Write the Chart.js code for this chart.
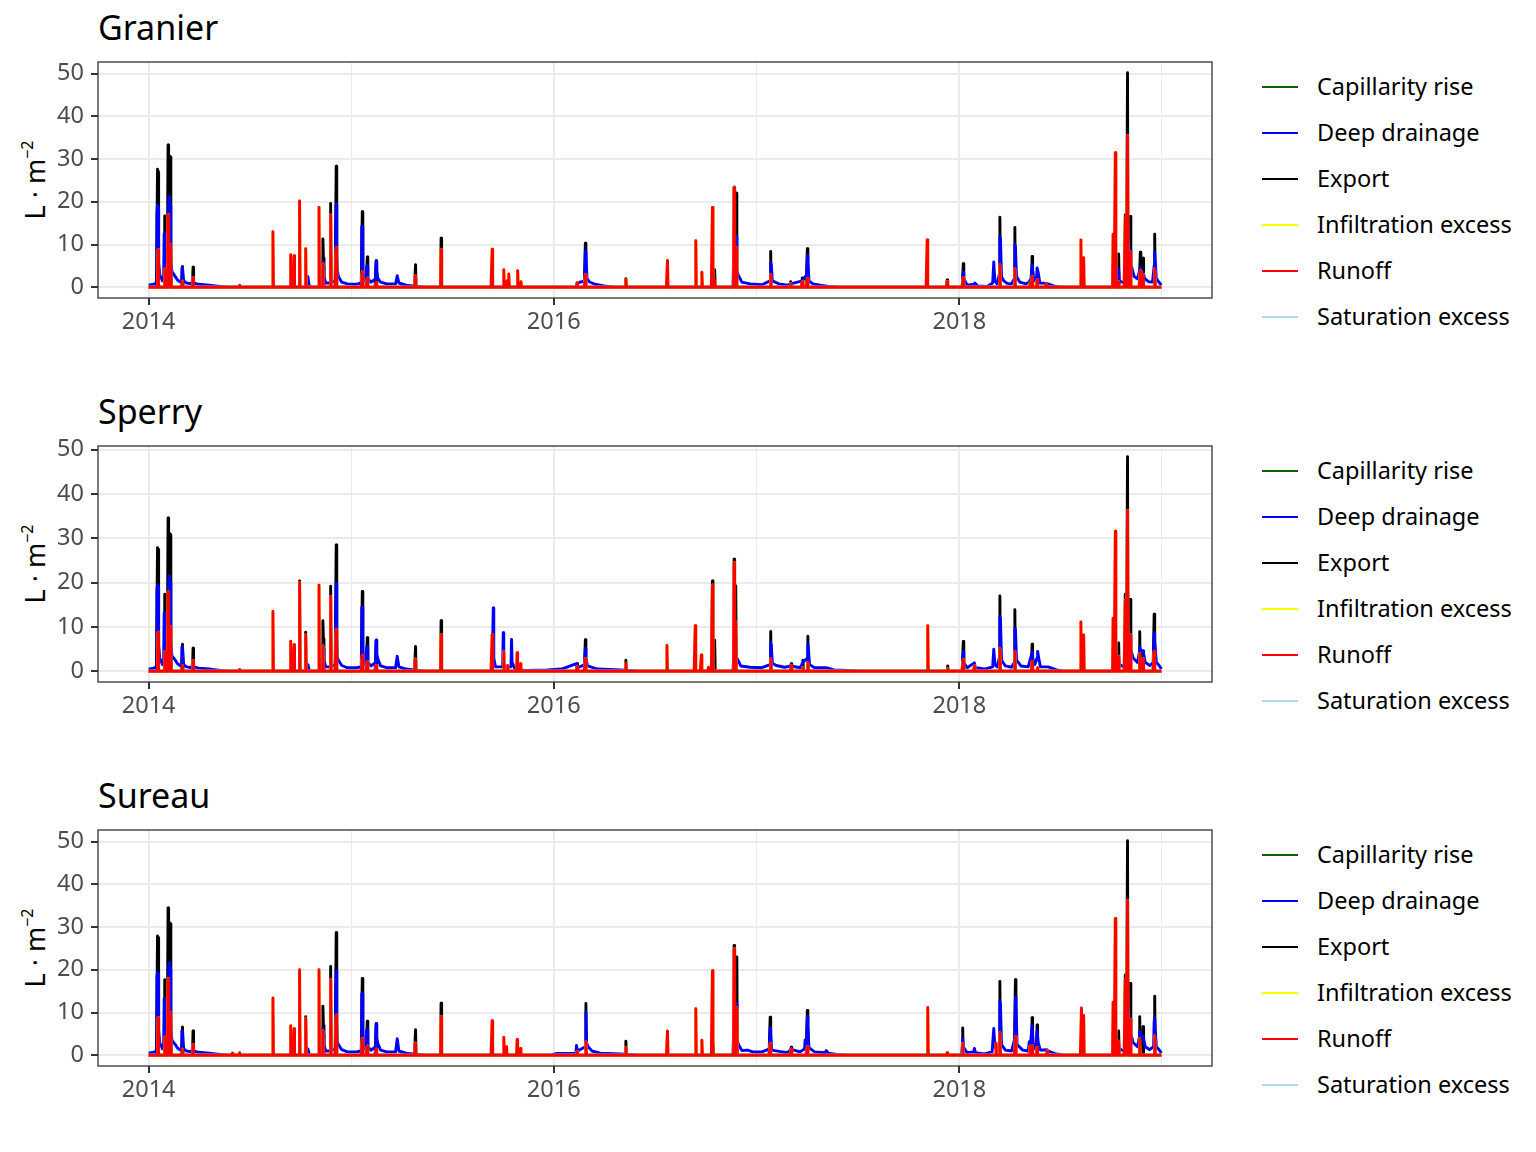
<!DOCTYPE html>
<html>
<head>
<meta charset="utf-8">
<title>Water balance flows</title>
<script src="https://cdn.jsdelivr.net/npm/chart.js@4.4.1/dist/chart.umd.min.js"></script>
<style>
  body { margin: 0; background: #fff; font-family: 'Noto Sans', sans-serif; }
  #page { position: relative; width: 1536px; height: 1152px; overflow: hidden; background: #fff; }
  .title { position: absolute; left: 98px; font-size: 34px; line-height: 34px; color: #000; white-space: nowrap; }
  .ytitle { position: absolute; width: 140px; height: 30px; font-size: 27px; line-height: 30px; text-align: center;
            white-space: nowrap; color: #000; transform: rotate(-90deg); transform-origin: 50% 50%; }
  .ytitle sup { font-size: 16px; vertical-align: 12px; line-height: 0; }
  .key { position: absolute; left: 1262px; width: 36px; height: 2.6px; }
  .label { position: absolute; left: 1317px; font-size: 23.5px; line-height: 30px; color: #000; white-space: nowrap; }
  canvas { position: absolute; left: 0; }
</style>
</head>
<body>
<div id="page"></div>
<script>
// ---- data ----
const panelTitles = ['Granier', 'Sperry', 'Sureau'];
const seriesNames = ['Capillarity rise', 'Deep drainage', 'Export', 'Infiltration excess', 'Runoff', 'Saturation excess'];
const firstDay = '2014-01-01';
const lastDay = '2018-12-31';
const yearStarts = ['2014-01-01', '2015-01-01', '2016-01-01', '2017-01-01', '2018-01-01', '2019-01-01'];
const yearLabels = ['2014', '', '2016', '', '2018', ''];
const yTicks = [0, 5, 10, 15, 20, 25, 30, 35, 40, 45, 50];

// no capillarity rise / saturation excess in these runs
const noFlow = [['2014-01-01', 0], ['2018-12-31', 0]];

// runoff and export: daily values, days not listed are 0
const granierRunoff = [
  ['2014-01-18', 8.8], ['2014-01-30', 4.3], ['2014-02-05', 16.9], ['2014-02-09', 9.9], ['2014-03-03', 1.4], ['2014-03-22', 2.3],
  ['2014-06-14', 0.5], ['2014-08-13', 13.0], ['2014-09-14', 7.6], ['2014-09-20', 7.4], ['2014-09-30', 20.2], ['2014-10-11', 9.0],
  ['2014-11-04', 18.7], ['2014-11-11', 5.6], ['2014-11-25', 16.9], ['2014-12-05', 9.2],
  ['2015-01-21', 3.7], ['2015-01-30', 2.1], ['2015-02-15', 1.0], ['2015-04-27', 2.7], ['2015-06-12', 8.8], ['2015-09-12', 8.9],
  ['2015-10-03', 4.1], ['2015-10-09', 1.5], ['2015-10-12', 3.1], ['2015-10-28', 3.9], ['2015-11-03', 1.3],
  ['2016-02-12', 1.0], ['2016-02-27', 3.0], ['2016-05-10', 1.9], ['2016-07-24', 6.3], ['2016-09-13', 10.9], ['2016-09-24', 3.5],
  ['2016-10-13', 18.7], ['2016-10-17', 1.5], ['2016-11-21', 23.3], ['2016-11-25', 9.2],
  ['2017-01-26', 3.0], ['2017-03-03', 0.9], ['2017-03-24', 1.3], ['2017-04-02', 2.0], ['2017-11-04', 11.1], ['2017-12-10', 1.3],
  ['2018-01-08', 2.3], ['2018-03-15', 5.2], ['2018-04-11', 4.3], ['2018-05-08', 1.0], ['2018-05-12', 2.4], ['2018-05-21', 1.7],
  ['2018-06-07', 0.9], ['2018-08-08', 11.1], ['2018-08-13', 6.9], ['2018-10-05', 12.4], ['2018-10-09', 31.5], ['2018-10-15', 1.3],
  ['2018-10-27', 16.2], ['2018-10-31', 35.5], ['2018-11-05', 8.2], ['2018-11-23', 3.9], ['2018-11-28', 3.0], ['2018-12-19', 4.3]
];
const granierExport = [
  ['2014-01-17', 27.6], ['2014-01-18', 27.0], ['2014-01-30', 16.7], ['2014-02-04', 12], ['2014-02-05', 33.3], ['2014-02-06', 22],
  ['2014-02-07', 26], ['2014-02-08', 30.7], ['2014-02-09', 30.5], ['2014-02-10', 10], ['2014-03-03', 4.9], ['2014-03-22', 4.7],
  ['2014-11-11', 11.3], ['2014-11-12', 6.8], ['2014-11-25', 19.6], ['2014-12-05', 28.3],
  ['2015-01-21', 17.7], ['2015-01-30', 7.1], ['2015-02-15', 6.2], ['2015-04-27', 5.3], ['2015-06-12', 11.5],
  ['2016-02-27', 10.3], ['2016-05-10', 2.0], ['2016-10-17', 4.1], ['2016-11-21', 23.4], ['2016-11-25', 22.0],
  ['2017-01-26', 8.4], ['2017-03-03', 1.3], ['2017-03-24', 2.2], ['2017-04-02', 9.0], ['2017-12-10', 1.7],
  ['2018-01-08', 5.5], ['2018-03-15', 16.4], ['2018-04-11', 14.0], ['2018-05-12', 7.2], ['2018-10-15', 7.8], ['2018-10-27', 16.9],
  ['2018-10-31', 50.2], ['2018-11-05', 16.6], ['2018-11-23', 8.2], ['2018-11-28', 6.8], ['2018-12-19', 12.4]
];
// deep drainage: recession curves, joined point to point
const granierDrainage = [
  ['2014-01-01', 0.5], ['2014-01-10', 0.7], ['2014-01-15', 1.0], ['2014-01-16', 17.3], ['2014-01-17', 19.2], ['2014-01-18', 18.5],
  ['2014-01-19', 6], ['2014-01-21', 3], ['2014-01-26', 1.5], ['2014-01-28', 2], ['2014-01-29', 12.6], ['2014-01-30', 12.4],
  ['2014-01-31', 4], ['2014-02-02', 3], ['2014-02-04', 10], ['2014-02-05', 16], ['2014-02-06', 19], ['2014-02-07', 21.2],
  ['2014-02-08', 20.5], ['2014-02-09', 19], ['2014-02-10', 6], ['2014-02-12', 3.7], ['2014-02-18', 2.5], ['2014-02-22', 1.7],
  ['2014-02-27', 1.2], ['2014-03-01', 1.5], ['2014-03-02', 4.5], ['2014-03-03', 4.5], ['2014-03-05', 1.5], ['2014-03-10', 1.0],
  ['2014-03-20', 0.8], ['2014-03-21', 2.0], ['2014-03-23', 1.0], ['2014-04-01', 0.7], ['2014-04-20', 0.5], ['2014-05-10', 0.2],
  ['2014-05-25', 0], ['2014-10-13', 0], ['2014-10-15', 2.5], ['2014-10-17', 0.5], ['2014-10-22', 0], ['2014-11-09', 0],
  ['2014-11-11', 6.0], ['2014-11-12', 5], ['2014-11-13', 2.5], ['2014-11-16', 1], ['2014-11-24', 1], ['2014-12-03', 1.5],
  ['2014-12-04', 10], ['2014-12-05', 19.5], ['2014-12-06', 8], ['2014-12-07', 4], ['2014-12-09', 2.5], ['2014-12-15', 1.2],
  ['2014-12-25', 0.8], ['2015-01-10', 0.7], ['2015-01-19', 1], ['2015-01-20', 14.2], ['2015-01-21', 14.2], ['2015-01-22', 3],
  ['2015-01-26', 1.5], ['2015-01-29', 5], ['2015-01-30', 5], ['2015-01-31', 2], ['2015-02-06', 1.2], ['2015-02-14', 2],
  ['2015-02-15', 6], ['2015-02-16', 4], ['2015-02-18', 2.1], ['2015-02-23', 1.2], ['2015-03-06', 0.8], ['2015-03-22', 0.8],
  ['2015-03-25', 2.7], ['2015-03-28', 1], ['2015-04-10', 0.5], ['2015-05-01', 0.2], ['2015-05-15', 0],
  ['2016-02-10', 0], ['2016-02-12', 1.0], ['2016-02-26', 1.5], ['2016-02-27', 8.5], ['2016-02-28', 8.0], ['2016-03-01', 2],
  ['2016-03-05', 1.3], ['2016-03-15', 0.7], ['2016-04-01', 0.3], ['2016-04-20', 0],
  ['2016-11-19', 0], ['2016-11-21', 11.9], ['2016-11-25', 11.9], ['2016-11-26', 4], ['2016-11-28', 3], ['2016-12-05', 1.2],
  ['2016-12-20', 0.8], ['2017-01-10', 0.6], ['2017-01-25', 1.5], ['2017-01-26', 5.6], ['2017-01-27', 5.4], ['2017-01-29', 1.5],
  ['2017-02-10', 0.8], ['2017-02-25', 0.5], ['2017-03-03', 0.8], ['2017-03-24', 1.5], ['2017-04-01', 3], ['2017-04-02', 7.4],
  ['2017-04-03', 6], ['2017-04-05', 1.5], ['2017-04-12', 0.8], ['2017-04-25', 0.5], ['2017-05-10', 0.2], ['2017-05-30', 0],
  ['2018-01-06', 0], ['2018-01-08', 3.5], ['2018-01-09', 2], ['2018-01-15', 0.5], ['2018-01-28', 0.7], ['2018-01-29', 1.0],
  ['2018-02-03', 0.3], ['2018-02-20', 0.2], ['2018-03-02', 1], ['2018-03-04', 5.9], ['2018-03-06', 1.5], ['2018-03-10', 0.8],
  ['2018-03-14', 3], ['2018-03-15', 11.8], ['2018-03-16', 11.5], ['2018-03-18', 2.5], ['2018-03-22', 1.5], ['2018-03-28', 0.9],
  ['2018-04-05', 0.8], ['2018-04-10', 2], ['2018-04-11', 10.0], ['2018-04-12', 9.5], ['2018-04-14', 2.5], ['2018-04-20', 1.2],
  ['2018-05-01', 0.8], ['2018-05-07', 1.3], ['2018-05-10', 2], ['2018-05-12', 5.1], ['2018-05-13', 4], ['2018-05-16', 1.5],
  ['2018-05-20', 2], ['2018-05-21', 4.5], ['2018-05-23', 3.5], ['2018-05-26', 1], ['2018-06-07', 0.9], ['2018-06-20', 0.3],
  ['2018-07-05', 0], ['2018-10-13', 0], ['2018-10-15', 4.3], ['2018-10-16', 1.5], ['2018-10-25', 1], ['2018-10-26', 3],
  ['2018-10-27', 10], ['2018-10-31', 14.7], ['2018-11-01', 12], ['2018-11-04', 6], ['2018-11-05', 8.6], ['2018-11-06', 5],
  ['2018-11-08', 4.5], ['2018-11-12', 2.5], ['2018-11-18', 2.0], ['2018-11-22', 4], ['2018-11-23', 4.7], ['2018-11-25', 3],
  ['2018-11-28', 3.5], ['2018-12-01', 2], ['2018-12-08', 1.3], ['2018-12-15', 1.2], ['2018-12-18', 5], ['2018-12-19', 8.2],
  ['2018-12-20', 6], ['2018-12-22', 2], ['2018-12-26', 1.3], ['2018-12-31', 0.5]
];

const sperryRunoff = [
  ['2014-01-18', 8.8], ['2014-01-30', 4.5], ['2014-02-05', 17.9], ['2014-02-09', 10.0], ['2014-03-03', 1.3], ['2014-03-22', 2.4],
  ['2014-06-14', 0.4], ['2014-08-13', 13.5], ['2014-09-14', 6.8], ['2014-09-20', 6.0], ['2014-09-30', 20.0], ['2014-10-11', 8.2],
  ['2014-11-04', 19.4], ['2014-11-11', 5.7], ['2014-11-25', 16.9], ['2014-12-05', 9.4],
  ['2015-01-21', 3.6], ['2015-01-30', 2.2], ['2015-02-15', 1.3], ['2015-04-27', 2.8], ['2015-06-12', 8.2], ['2015-09-12', 8.3],
  ['2015-10-03', 4.4], ['2015-10-10', 1.3], ['2015-10-27', 4.2], ['2015-11-02', 1.7],
  ['2016-02-12', 1.0], ['2016-02-27', 2.9], ['2016-05-10', 1.8], ['2016-07-23', 5.8], ['2016-09-12', 10.3], ['2016-09-23', 3.7],
  ['2016-10-06', 0.9], ['2016-10-13', 19.4], ['2016-11-21', 24.5], ['2016-11-24', 11.1],
  ['2017-01-26', 2.8], ['2017-03-04', 1.2], ['2017-03-25', 0.8], ['2017-04-03', 1.9], ['2017-11-05', 10.3], ['2017-12-11', 0.6],
  ['2018-01-08', 2.6], ['2018-01-28', 1.2], ['2018-03-15', 5.1], ['2018-04-11', 4.5], ['2018-05-12', 2.2], ['2018-05-22', 0.8],
  ['2018-08-08', 11.1], ['2018-08-13', 8.2], ['2018-10-05', 12.0], ['2018-10-09', 31.6], ['2018-10-15', 3.4], ['2018-10-27', 16.0],
  ['2018-10-31', 36.3], ['2018-11-05', 8.2], ['2018-11-22', 4.0], ['2018-11-28', 2.8], ['2018-12-18', 4.5]
];
const sperryExport = [
  ['2014-01-17', 27.9], ['2014-01-18', 27.5], ['2014-01-30', 17.4], ['2014-02-04', 12], ['2014-02-05', 34.6], ['2014-02-06', 22],
  ['2014-02-07', 27], ['2014-02-08', 31.1], ['2014-02-09', 30.8], ['2014-02-10', 10], ['2014-03-03', 6.1], ['2014-03-22', 5.2],
  ['2014-09-30', 20.4], ['2014-10-11', 8.8], ['2014-11-11', 11.4], ['2014-11-12', 7.3], ['2014-11-25', 19.2], ['2014-12-05', 28.5],
  ['2015-01-21', 18.0], ['2015-01-30', 7.6], ['2015-02-15', 7.0], ['2015-04-27', 5.6], ['2015-06-12', 11.4],
  ['2016-02-12', 1.7], ['2016-02-27', 7.1], ['2016-05-10', 2.5], ['2016-10-13', 20.4], ['2016-10-17', 7.0], ['2016-11-21', 25.3],
  ['2016-11-24', 19.3], ['2017-01-26', 9.0], ['2017-03-04', 1.7], ['2017-03-25', 2.5], ['2017-04-03', 7.9], ['2017-12-11', 1.2],
  ['2018-01-08', 6.7], ['2018-03-15', 17.0], ['2018-04-11', 13.9], ['2018-05-12', 6.1], ['2018-10-15', 6.4], ['2018-10-27', 17.4],
  ['2018-10-31', 48.4], ['2018-11-05', 16.2], ['2018-11-22', 8.9], ['2018-11-28', 4.6], ['2018-12-18', 12.9]
];
const sperryDrainage = [
  ['2014-01-01', 0.5], ['2014-01-10', 0.7], ['2014-01-15', 1.0], ['2014-01-16', 18.2], ['2014-01-17', 19.5], ['2014-01-18', 19],
  ['2014-01-19', 6], ['2014-01-21', 3], ['2014-01-26', 1.5], ['2014-01-28', 2], ['2014-01-29', 13.2], ['2014-01-30', 13],
  ['2014-01-31', 4], ['2014-02-02', 3], ['2014-02-04', 10], ['2014-02-05', 16.5], ['2014-02-06', 19.5], ['2014-02-07', 21.5],
  ['2014-02-08', 21], ['2014-02-09', 20], ['2014-02-10', 6], ['2014-02-12', 3.5], ['2014-02-18', 2.5], ['2014-02-22', 1.7],
  ['2014-02-27', 1.2], ['2014-03-01', 1.5], ['2014-03-02', 5.5], ['2014-03-03', 5.5], ['2014-03-05', 1.5], ['2014-03-10', 1.0],
  ['2014-03-20', 0.8], ['2014-03-21', 2.0], ['2014-03-23', 1.0], ['2014-04-01', 0.7], ['2014-04-20', 0.5], ['2014-05-10', 0.2],
  ['2014-05-25', 0], ['2014-10-13', 0], ['2014-10-15', 1.5], ['2014-10-18', 0], ['2014-11-09', 0], ['2014-11-11', 6.0],
  ['2014-11-12', 5], ['2014-11-13', 2.5], ['2014-11-16', 1], ['2014-11-24', 1], ['2014-12-03', 1.5], ['2014-12-04', 10],
  ['2014-12-05', 19.7], ['2014-12-06', 8], ['2014-12-07', 3.2], ['2014-12-09', 2.5], ['2014-12-15', 1.3], ['2014-12-25', 0.8],
  ['2015-01-10', 0.8], ['2015-01-19', 1], ['2015-01-20', 14.4], ['2015-01-21', 14.4], ['2015-01-22', 3], ['2015-01-26', 1.5],
  ['2015-01-29', 5.5], ['2015-01-30', 5.5], ['2015-01-31', 2], ['2015-02-06', 1.2], ['2015-02-14', 2], ['2015-02-15', 7.0],
  ['2015-02-16', 4], ['2015-02-18', 2.8], ['2015-02-23', 1.2], ['2015-03-06', 0.8], ['2015-03-22', 0.8], ['2015-03-25', 3.4],
  ['2015-03-28', 1], ['2015-04-10', 0.5], ['2015-05-01', 0.2], ['2015-05-15', 0],
  ['2015-09-12', 0], ['2015-09-14', 14.3], ['2015-09-15', 3], ['2015-09-18', 1], ['2015-10-01', 1], ['2015-10-02', 8.7],
  ['2015-10-03', 2], ['2015-10-06', 0.8], ['2015-10-16', 1], ['2015-10-17', 7.2], ['2015-10-18', 2], ['2015-10-23', 0.5],
  ['2015-11-10', 0.2], ['2015-12-20', 0.3], ['2016-01-15', 0.5], ['2016-02-11', 1.7], ['2016-02-13', 0.8], ['2016-02-26', 1.5],
  ['2016-02-27', 5.1], ['2016-02-28', 3], ['2016-03-02', 1.2], ['2016-03-20', 0.5], ['2016-05-01', 0.3], ['2016-06-01', 0],
  ['2016-11-19', 0], ['2016-11-21', 5], ['2016-11-24', 8], ['2016-11-25', 3], ['2016-11-27', 2.8], ['2016-12-03', 1.2],
  ['2016-12-20', 0.9], ['2017-01-10', 0.8], ['2017-01-25', 1.5], ['2017-01-26', 6.4], ['2017-01-27', 6], ['2017-01-29', 1.8],
  ['2017-02-05', 1.3], ['2017-02-20', 0.9], ['2017-03-04', 1.2], ['2017-03-20', 0.8], ['2017-03-25', 2], ['2017-04-02', 3],
  ['2017-04-03', 6.2], ['2017-04-04', 5], ['2017-04-06', 1.5], ['2017-04-15', 0.8], ['2017-05-06', 0.8], ['2017-05-20', 0.3],
  ['2017-06-15', 0.2], ['2017-07-10', 0],
  ['2018-01-06', 0], ['2018-01-08', 4.4], ['2018-01-09', 2], ['2018-01-15', 0.8], ['2018-01-28', 1.9], ['2018-01-30', 0.8],
  ['2018-02-15', 0.5], ['2018-03-02', 1], ['2018-03-04', 5.0], ['2018-03-06', 1.5], ['2018-03-10', 1], ['2018-03-14', 3],
  ['2018-03-15', 12.2], ['2018-03-16', 12], ['2018-03-18', 2.5], ['2018-03-25', 1.2], ['2018-04-05', 0.9], ['2018-04-10', 2],
  ['2018-04-11', 9.7], ['2018-04-12', 9.5], ['2018-04-14', 2.5], ['2018-04-22', 1.2], ['2018-05-05', 1], ['2018-05-12', 4.2],
  ['2018-05-13', 3], ['2018-05-17', 1.5], ['2018-05-21', 3], ['2018-05-22', 4.5], ['2018-05-24', 3], ['2018-05-27', 1],
  ['2018-06-10', 1.0], ['2018-06-25', 0.3], ['2018-07-10', 0],
  ['2018-10-13', 0], ['2018-10-15', 3.5], ['2018-10-16', 1.5], ['2018-10-25', 1], ['2018-10-26', 3], ['2018-10-27', 10],
  ['2018-10-31', 12], ['2018-11-01', 10], ['2018-11-04', 6], ['2018-11-05', 8], ['2018-11-06', 5], ['2018-11-10', 3],
  ['2018-11-18', 2], ['2018-11-21', 4], ['2018-11-22', 5.5], ['2018-11-24', 4.6], ['2018-11-28', 4.6], ['2018-12-02', 2],
  ['2018-12-10', 1.3], ['2018-12-17', 2], ['2018-12-18', 8.6], ['2018-12-19', 7], ['2018-12-22', 2], ['2018-12-27', 1.3],
  ['2018-12-31', 0.5]
];

const sureauRunoff = [
  ['2014-01-18', 8.8], ['2014-01-30', 4.3], ['2014-02-05', 17.9], ['2014-02-09', 9.9], ['2014-03-03', 1.4], ['2014-03-22', 2.5],
  ['2014-06-01', 0.5], ['2014-06-14', 0.6], ['2014-08-13', 13.4], ['2014-09-14', 6.9], ['2014-09-20', 6.2], ['2014-09-30', 20.0],
  ['2014-10-11', 8.7], ['2014-11-04', 20.0], ['2014-11-11', 5.7], ['2014-11-25', 17.7], ['2014-12-05', 9.4],
  ['2015-01-21', 3.9], ['2015-01-30', 2.1], ['2015-02-15', 1.4], ['2015-04-27', 2.9], ['2015-06-12', 9.0], ['2015-09-12', 8.1],
  ['2015-10-03', 4.2], ['2015-10-05', 2.0], ['2015-10-08', 2.0], ['2015-10-27', 3.7], ['2015-11-02', 1.6],
  ['2016-02-12', 0.9], ['2016-02-28', 3.1], ['2016-05-10', 1.8], ['2016-07-24', 5.7], ['2016-09-13', 10.9], ['2016-09-24', 3.5],
  ['2016-10-13', 19.8], ['2016-11-21', 25.0], ['2016-11-26', 11.1],
  ['2017-01-25', 2.7], ['2017-03-04', 1.4], ['2017-04-02', 2.0], ['2017-11-05', 11.2], ['2017-12-10', 0.6],
  ['2018-01-07', 2.7], ['2018-03-08', 2.8], ['2018-03-15', 5.2], ['2018-04-12', 4.4], ['2018-05-08', 2.1], ['2018-05-12', 2.3],
  ['2018-05-21', 1.8], ['2018-06-08', 1.0], ['2018-08-09', 11.1], ['2018-08-13', 9.3], ['2018-10-05', 12.4], ['2018-10-09', 32.0],
  ['2018-10-15', 3.3], ['2018-10-27', 17.7], ['2018-10-31', 36.3], ['2018-11-05', 8.3], ['2018-11-22', 3.9], ['2018-12-19', 4.5]
];
const sureauExport = [
  ['2014-01-17', 27.9], ['2014-01-18', 27.5], ['2014-01-30', 17.7], ['2014-02-04', 12], ['2014-02-05', 34.5], ['2014-02-06', 22],
  ['2014-02-07', 27], ['2014-02-08', 31.0], ['2014-02-09', 30.8], ['2014-02-10', 10], ['2014-03-03', 6.6], ['2014-03-22', 5.7],
  ['2014-10-11', 9.0], ['2014-11-11', 11.5], ['2014-11-12', 7], ['2014-11-25', 20.8], ['2014-12-05', 28.7],
  ['2015-01-21', 18.0], ['2015-01-30', 8.0], ['2015-02-15', 7.4], ['2015-04-27', 6.0], ['2015-06-12', 12.2],
  ['2016-02-28', 12.1], ['2016-05-10', 3.3], ['2016-10-14', 2.7], ['2016-11-21', 25.7], ['2016-11-26', 23.0],
  ['2017-01-25', 8.9], ['2017-03-04', 1.9], ['2017-04-02', 10.5],
  ['2018-01-07', 6.4], ['2018-03-15', 17.3], ['2018-04-12', 17.7], ['2018-05-12', 8.8], ['2018-05-21', 7.1], ['2018-10-15', 5.7],
  ['2018-10-27', 18.8], ['2018-10-31', 50.2], ['2018-11-05', 16.8], ['2018-11-22', 9.0], ['2018-11-28', 6.7], ['2018-12-19', 13.8]
];
const sureauDrainage = [
  ['2014-01-01', 0.5], ['2014-01-10', 0.7], ['2014-01-15', 1.0], ['2014-01-16', 18.4], ['2014-01-17', 19.4], ['2014-01-18', 19],
  ['2014-01-19', 6], ['2014-01-21', 3], ['2014-01-26', 1.5], ['2014-01-28', 2], ['2014-01-29', 13.3], ['2014-01-30', 13],
  ['2014-01-31', 4], ['2014-02-02', 3], ['2014-02-04', 10], ['2014-02-05', 16.5], ['2014-02-06', 19.5], ['2014-02-07', 21.6],
  ['2014-02-08', 21], ['2014-02-09', 20], ['2014-02-10', 6], ['2014-02-12', 3.5], ['2014-02-18', 2.5], ['2014-02-22', 1.7],
  ['2014-02-27', 1.2], ['2014-03-01', 1.5], ['2014-03-02', 5.7], ['2014-03-03', 5.7], ['2014-03-05', 1.5], ['2014-03-10', 1.0],
  ['2014-03-20', 0.8], ['2014-03-21', 2.0], ['2014-03-23', 1.0], ['2014-04-01', 0.7], ['2014-04-20', 0.5], ['2014-05-10', 0.2],
  ['2014-05-25', 0], ['2014-10-13', 0], ['2014-10-15', 1.5], ['2014-10-18', 0], ['2014-11-09', 0], ['2014-11-11', 6.2],
  ['2014-11-12', 5], ['2014-11-13', 2.5], ['2014-11-16', 1], ['2014-11-24', 1], ['2014-12-03', 1.5], ['2014-12-04', 10],
  ['2014-12-05', 19.7], ['2014-12-06', 8], ['2014-12-07', 3.2], ['2014-12-09', 2.5], ['2014-12-15', 1.3], ['2014-12-25', 0.8],
  ['2015-01-10', 0.8], ['2015-01-19', 1], ['2015-01-20', 14.4], ['2015-01-21', 14.4], ['2015-01-22', 3], ['2015-01-26', 1.5],
  ['2015-01-29', 6.0], ['2015-01-30', 6.0], ['2015-01-31', 2], ['2015-02-06', 1.2], ['2015-02-14', 2], ['2015-02-15', 7.4],
  ['2015-02-16', 4], ['2015-02-18', 2.8], ['2015-02-23', 1.2], ['2015-03-06', 0.8], ['2015-03-22', 0.8], ['2015-03-25', 3.9],
  ['2015-03-28', 1], ['2015-04-10', 0.5], ['2015-05-01', 0.2], ['2015-05-15', 0],
  ['2015-12-25', 0], ['2016-01-05', 0.4], ['2016-02-10', 0.5], ['2016-02-11', 2.3], ['2016-02-13', 1], ['2016-02-27', 2],
  ['2016-02-28', 10.1], ['2016-02-29', 3], ['2016-03-03', 2.0], ['2016-03-10', 1], ['2016-03-25', 0.5], ['2016-05-01', 0.3],
  ['2016-06-01', 0],
  ['2016-11-19', 0], ['2016-11-21', 10], ['2016-11-26', 12.1], ['2016-11-27', 3.5], ['2016-11-29', 2.5], ['2016-12-05', 1.1],
  ['2016-12-15', 1.2], ['2016-12-25', 0.8], ['2017-01-10', 0.8], ['2017-01-24', 1.5], ['2017-01-25', 6.4], ['2017-01-26', 5],
  ['2017-01-28', 1.2], ['2017-02-10', 0.9], ['2017-02-25', 0.6], ['2017-03-04', 1.4], ['2017-03-20', 0.8], ['2017-03-28', 1.5],
  ['2017-03-29', 3.6], ['2017-03-31', 2.5], ['2017-04-01', 5], ['2017-04-02', 9.0], ['2017-04-03', 7], ['2017-04-05', 1.8],
  ['2017-04-15', 0.8], ['2017-05-05', 0.6], ['2017-05-06', 1.1], ['2017-05-10', 0.5], ['2017-05-25', 0.2], ['2017-06-15', 0],
  ['2018-01-05', 0], ['2018-01-07', 3.9], ['2018-01-08', 2], ['2018-01-15', 0.6], ['2018-01-27', 0.8], ['2018-01-28', 1.6],
  ['2018-01-30', 0.6], ['2018-02-15', 0.3], ['2018-03-01', 0.8], ['2018-03-04', 6.3], ['2018-03-06', 2], ['2018-03-10', 1],
  ['2018-03-14', 3], ['2018-03-15', 12.6], ['2018-03-16', 12], ['2018-03-18', 2.5], ['2018-03-25', 1.2], ['2018-04-05', 1],
  ['2018-04-11', 4], ['2018-04-12', 13.6], ['2018-04-13', 12], ['2018-04-15', 2.5], ['2018-04-25', 1.2], ['2018-05-05', 1],
  ['2018-05-07', 3.2], ['2018-05-09', 2.5], ['2018-05-12', 6.9], ['2018-05-14', 3], ['2018-05-16', 1.5], ['2018-05-20', 3],
  ['2018-05-21', 5.7], ['2018-05-23', 3], ['2018-05-27', 1.2], ['2018-06-08', 1.3], ['2018-06-10', 1], ['2018-06-25', 0.3],
  ['2018-07-10', 0],
  ['2018-10-13', 0], ['2018-10-15', 3], ['2018-10-16', 1.5], ['2018-10-25', 1], ['2018-10-26', 3], ['2018-10-27', 11],
  ['2018-10-31', 13.9], ['2018-11-01', 12], ['2018-11-04', 6], ['2018-11-05', 8.5], ['2018-11-06', 5], ['2018-11-10', 3],
  ['2018-11-18', 2], ['2018-11-21', 4], ['2018-11-22', 5.7], ['2018-11-24', 4.5], ['2018-11-28', 4.5], ['2018-12-02', 2],
  ['2018-12-10', 1.3], ['2018-12-17', 2], ['2018-12-18', 8.0], ['2018-12-19', 8.8], ['2018-12-20', 6], ['2018-12-22', 2],
  ['2018-12-27', 1.3], ['2018-12-31', 0.5]
];

// ---- styles / layout ----
const seriesColors = ['#006400', '#0000ff', '#000000', '#ffff00', '#ff0000', '#add8e6'];
const drawOrder = [5, 3, 4, 1, 0, 2];   // chart.js: lower order is painted on top
const panelTops = [62, 446, 830];
const PANEL_H = 236;
const PAD_TOP = 24;
const AXIS_W = 98;
const AXIS_H = 50;
const CANVAS_W = 1232;
const tickFont = { family: "'Noto Sans', sans-serif", size: 23.5 };

const START = Date.parse(firstDay);
const dayOf = s => Math.round((Date.parse(s) - START) / 864e5);
const lastIdx = dayOf(lastDay);

// daily series: listed days get their value, others stay at 0
function dailyPoints(list) {
    const vals = new Array(lastIdx + 1).fill(0);
    list.forEach(([d, v]) => { vals[dayOf(d)] = v; });
    return vals.map((y, x) => ({ x, y }));
}

// sparse series: line joins the listed points
function points(list) {
    return list.map(([d, v]) => ({ x: dayOf(d), y: v }));
}

const yearTickDays = yearStarts.map(dayOf);

// frame round the plotting area, like the panel border
const panelBorder = {
    id: 'panelBorder',
    afterDatasetsDraw(chart) {
        const { ctx, chartArea: a } = chart;
        ctx.save();
        ctx.strokeStyle = '#333333';
        ctx.lineWidth = 1.3;
        ctx.strokeRect(a.left, a.top, a.right - a.left, a.bottom - a.top);
        ctx.restore();
    }
};

const page = document.getElementById('page');

const panels = [
    { runoff: granierRunoff, drainage: granierDrainage, exported: granierExport },
    { runoff: sperryRunoff, drainage: sperryDrainage, exported: sperryExport },
    { runoff: sureauRunoff, drainage: sureauDrainage, exported: sureauExport }
];

panels.forEach((p, i) => {
    const top = panelTops[i];

    // title
    const t = document.createElement('div');
    t.className = 'title';
    t.style.top = (top - 52) + 'px';
    t.textContent = panelTitles[i];
    page.appendChild(t);

    // y axis title
    const yt = document.createElement('div');
    yt.className = 'ytitle';
    yt.style.left = (34.5 - 70) + 'px';
    yt.style.top = (top + PANEL_H / 2 - 15) + 'px';
    yt.innerHTML = 'L · m<sup>−2</sup>';
    page.appendChild(yt);

    // legend
    seriesNames.forEach((name, k) => {
        const cy = top + 25 + k * 46;
        const key = document.createElement('div');
        key.className = 'key';
        key.style.top = (cy - 1.3) + 'px';
        key.style.background = seriesColors[k];
        page.appendChild(key);
        const lab = document.createElement('div');
        lab.className = 'label';
        lab.style.top = (cy - 16) + 'px';
        lab.textContent = name;
        page.appendChild(lab);
    });

    // chart
    const canvas = document.createElement('canvas');
    canvas.width = CANVAS_W;
    canvas.height = PAD_TOP + PANEL_H + AXIS_H;
    canvas.style.top = (top - PAD_TOP) + 'px';
    page.appendChild(canvas);

    const peak = Math.max(...[...p.runoff, ...p.drainage, ...p.exported].map(e => e[1]));
    const seriesData = [
        points(noFlow),
        points(p.drainage),
        dailyPoints(p.exported),
        dailyPoints(p.runoff),   // infiltration excess follows runoff in these runs
        dailyPoints(p.runoff),
        points(noFlow)
    ];

    new Chart(canvas.getContext('2d'), {
        type: 'line',
        data: {
            datasets: seriesNames.map((name, k) => ({
                label: name,
                data: seriesData[k],
                borderColor: seriesColors[k],
                order: drawOrder[k]
            }))
        },
        options: {
            responsive: false,
            animation: false,
            events: [],
            layout: { padding: { top: PAD_TOP, right: CANVAS_W - 1212, left: 0, bottom: 0 } },
            plugins: { legend: { display: false }, tooltip: { enabled: false } },
            elements: {
                point: { radius: 0 },
                line: { borderWidth: 2.9, tension: 0, borderJoinStyle: 'round', borderCapStyle: 'butt', fill: false }
            },
            scales: {
                x: {
                    type: 'linear',
                    min: -0.05 * lastIdx,
                    max: 1.05 * lastIdx,
                    afterFit: a => { a.height = AXIS_H; },
                    afterBuildTicks: a => { a.ticks = yearTickDays.map(v => ({ value: v })); },
                    ticks: {
                        autoSkip: false,
                        maxRotation: 0,
                        padding: 3,
                        font: tickFont,
                        color: '#4d4d4d',
                        callback: (v, idx) => yearLabels[idx]
                    },
                    grid: {
                        color: '#ebebeb',
                        lineWidth: c => (yearLabels[c.index] ? 2 : 1),
                        tickLength: 7,
                        tickWidth: 2,
                        tickColor: c => (yearLabels[c.index] ? '#333333' : 'rgba(0,0,0,0)')
                    },
                    border: { display: false }
                },
                y: {
                    type: 'linear',
                    min: -0.05 * peak,
                    max: 1.05 * peak,
                    afterFit: a => { a.width = AXIS_W; },
                    afterBuildTicks: a => { a.ticks = yTicks.filter(v => v <= a.max).map(v => ({ value: v })); },
                    ticks: {
                        padding: 7,
                        font: tickFont,
                        color: '#4d4d4d',
                        callback: v => (v % 10 === 0 ? String(v) : '')
                    },
                    grid: {
                        color: '#ebebeb',
                        lineWidth: c => (c.tick && c.tick.value % 10 === 0 ? 2 : 1),
                        tickLength: 7,
                        tickWidth: 2,
                        tickColor: c => (c.tick && c.tick.value % 10 === 0 ? '#333333' : 'rgba(0,0,0,0)')
                    },
                    border: { display: false }
                }
            }
        },
        plugins: [panelBorder]
    });
});
</script>
</body>
</html>
